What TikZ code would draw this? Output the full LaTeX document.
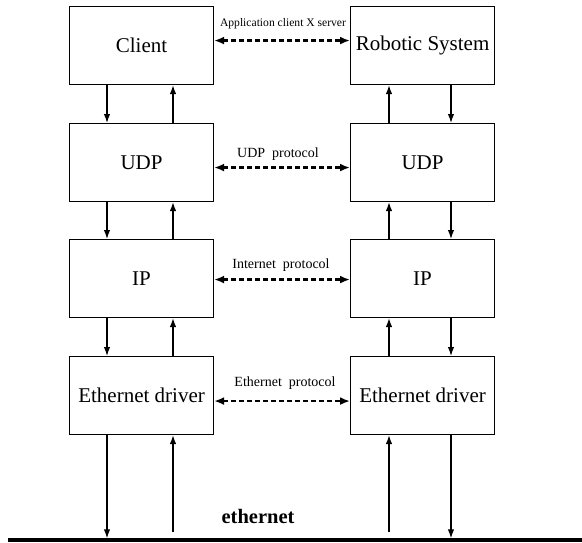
\documentclass[tikz,border=0pt]{standalone}
\usepackage{fontspec}
\setmainfont{Liberation Serif}
\usetikzlibrary{arrows.meta}
\begin{document}
\begin{tikzpicture}[x=1pt,y=-1pt,
  layer/.style={draw, line width=1.1pt, minimum width=144pt, minimum height=78pt,
    inner sep=0pt, anchor=north west, font=\fontsize{21}{24}\selectfont},
  flow/.style={line width=1.3pt, -{Latex[length=9pt,width=6.5pt]}},
  peer/.style={line width=2.2pt, dash pattern=on 4.5pt off 3.5pt,
    {Latex[length=10pt,width=8pt]}-{Latex[length=10pt,width=8pt]}},
  peerlabel/.style={inner sep=0pt, font=\fontsize{14}{16}\selectfont}]
\useasboundingbox (0,0) rectangle (582,542);

% protocol stacks: left host and right host
\node[layer] (c1) at (69,6)   {Client};
\node[layer] (u1) at (69,123) {UDP};
\node[layer] (i1) at (69,239) {IP};
\node[layer] (e1) at (69,356) {Ethernet driver};

\node[layer] (c2) at (350,6)   {Robotic System};
\node[layer] (u2) at (350,123) {UDP};
\node[layer] (i2) at (350,239) {IP};
\node[layer] (e2) at (350,356) {Ethernet driver};

% peer-to-peer protocol links
\draw[peer] ([yshift=5pt]c1.east) -- ([yshift=5pt]c2.west);
\draw[peer] ([yshift=-5pt]u1.east) -- ([yshift=-5pt]u2.west);
\draw[peer] ([yshift=-1pt]i1.east) -- ([yshift=-1pt]i2.west);
\draw[peer] ([yshift=-5.5pt]e1.east) -- ([yshift=-5.5pt]e2.west);

\node[inner sep=0pt, font=\fontsize{11.6}{13}\selectfont] (lapp) at (283,24) {Application client X server};
\node[peerlabel] (ludp) at (278,154) {UDP~ protocol};
\node[peerlabel] (lip)  at (281,265) {Internet~ protocol};
\node[peerlabel] (leth) at (285,383) {Ethernet~ protocol};

% vertical data flow, left host (down on the left, up on the right)
\foreach \a/\b in {c1/u1, u1/i1, i1/e1} {
  \draw[flow] ([xshift=38pt]\a.south west) -- ([xshift=38pt]\b.north west);
  \draw[flow] ([xshift=104pt]\b.north west) -- ([xshift=104pt]\a.south west);
}
% vertical data flow, right host (up on the left, down on the right)
\foreach \a/\b in {c2/u2, u2/i2, i2/e2} {
  \draw[flow] ([xshift=39pt]\b.north west) -- ([xshift=39pt]\a.south west);
  \draw[flow] ([xshift=101pt]\a.south west) -- ([xshift=101pt]\b.north west);
}

% ethernet bus
\coordinate (busL) at (8,540);
\coordinate (busR) at (582,540);
\coordinate (bustop) at (0,538.3);
\coordinate (upfoot) at (0,532);
\draw[line width=3.5pt] (busL) -- (busR);
\node[inner sep=0pt, font=\fontsize{20.5}{23}\selectfont\bfseries] (lbus) at (258,516) {ethernet};

\draw[flow] ([xshift=38pt]e1.south west) -- ([xshift=38pt]e1.south west |- bustop);
\draw[flow] ([xshift=104pt]e1.south west |- upfoot) -- ([xshift=104pt]e1.south west);
\draw[flow] ([xshift=39pt]e2.south west |- upfoot) -- ([xshift=39pt]e2.south west);
\draw[flow] ([xshift=101pt]e2.south west) -- ([xshift=101pt]e2.south west |- bustop);
\end{tikzpicture}
\end{document}
